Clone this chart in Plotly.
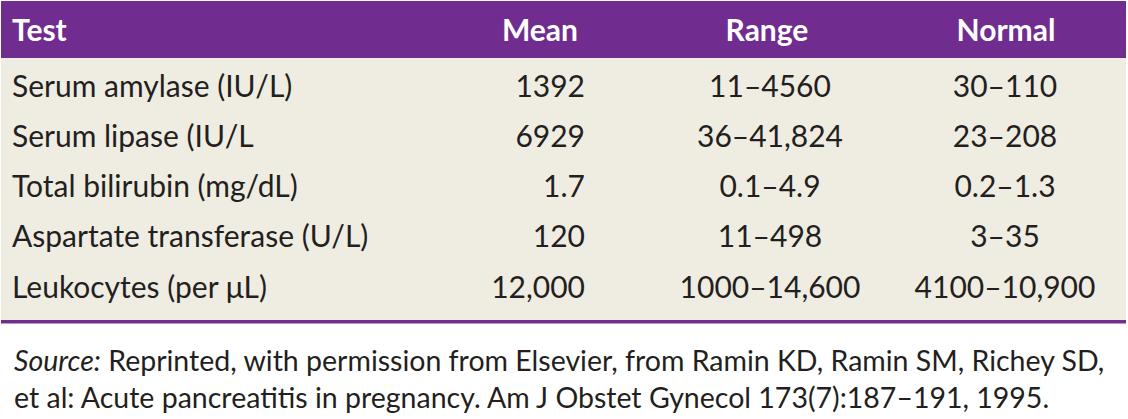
import plotly.graph_objects as go

# ---- data ----
headers = ["Test", "Mean", "Range", "Normal"]
tests = ["Serum amylase (IU/L)", "Serum lipase (IU/L", "Total bilirubin (mg/dL)",
         "Aspartate transferase (U/L)", "Leukocytes (per μL)"]
means = ["1392", "6929", "1.7", "120", "12,000"]
ranges = ["11–4560", "36–41,824", "0.1–4.9", "11–498", "1000–14,600"]
normals = ["30–110", "23–208", "0.2–1.3", "3–35", "4100–10,900"]
source_lines = [
    "<i>Source:</i> Reprinted, with permission from Elsevier, from Ramin KD, Ramin SM, Richey SD,",
    "et al: Acute pancreatitis in pregnancy. Am J Obstet Gynecol 173(7):187–191, 1995.",
]

# ---- layout / style ----
W, H = 1128, 419
PURPLE = "#702C8F"
BEIGE = "#EFECE2"
TEXT = "#231F20"
FONT = "Lato"
BODY_SIZE = 30
HEAD_SIZE = 30
SRC_SIZE = 28.5

header_top, header_bot = 1, 58
body_bot = 320
line_w = 3.5
row0_y, row_step = 89, 50.3
header_y = 33

n = len(tests)
row_y = [row0_y + i * row_step for i in range(n)]

col_specs = [  # (values, anchor x, textposition)
    (tests, 12, "middle right"),
    (means, 585, "middle left"),
    (ranges, 770, "middle center"),
    (normals, 1005, "middle center"),
]
head_specs = [(12, "middle right"), (540, "middle center"), (767, "middle center"), (1006, "middle center")]

fig = go.Figure()

for (vals, x, pos) in col_specs:
    fig.add_trace(go.Scatter(
        x=[x] * len(vals), y=row_y, text=vals, mode="text",
        textposition=pos, textfont=dict(family=FONT, size=BODY_SIZE, color=TEXT),
        hoverinfo="skip", showlegend=False, cliponaxis=False,
    ))

for h, (x, pos) in zip(headers, head_specs):
    fig.add_trace(go.Scatter(
        x=[x], y=[header_y], text=[f"<b>{h}</b>"], mode="text",
        textposition=pos, textfont=dict(family=FONT, size=HEAD_SIZE, color="white"),
        hoverinfo="skip", showlegend=False, cliponaxis=False,
    ))

shapes = [
    dict(type="rect", xref="x", yref="y", x0=1, x1=1126, y0=header_top, y1=header_bot,
         fillcolor=PURPLE, line_width=0, layer="below"),
    dict(type="rect", xref="x", yref="y", x0=1, x1=1126, y0=header_bot, y1=body_bot,
         fillcolor=BEIGE, line_width=0, layer="below"),
    dict(type="rect", xref="x", yref="y", x0=1, x1=1126, y0=body_bot, y1=body_bot + line_w,
         fillcolor=PURPLE, line_width=0, layer="below"),
]

annotations = []
for i, line in enumerate(source_lines):
    annotations.append(dict(
        x=12, y=360 + i * 37, xref="x", yref="y", text=line, showarrow=False,
        xanchor="left", yanchor="middle",
        font=dict(family=FONT, size=SRC_SIZE, color=TEXT),
    ))

fig.update_layout(
    width=W, height=H, margin=dict(l=0, r=0, t=0, b=0, pad=0, autoexpand=False),
    paper_bgcolor="white", plot_bgcolor="white",
    xaxis=dict(range=[0, W], visible=False, fixedrange=True, automargin=False),
    yaxis=dict(range=[H, 0], visible=False, fixedrange=True, automargin=False),
    shapes=shapes, annotations=annotations,
)

fig.write_html(
    "out.html",
    config={"displayModeBar": False, "staticPlot": True},
    post_script="document.body.style.margin='0';document.body.style.overflow='hidden';",
)
